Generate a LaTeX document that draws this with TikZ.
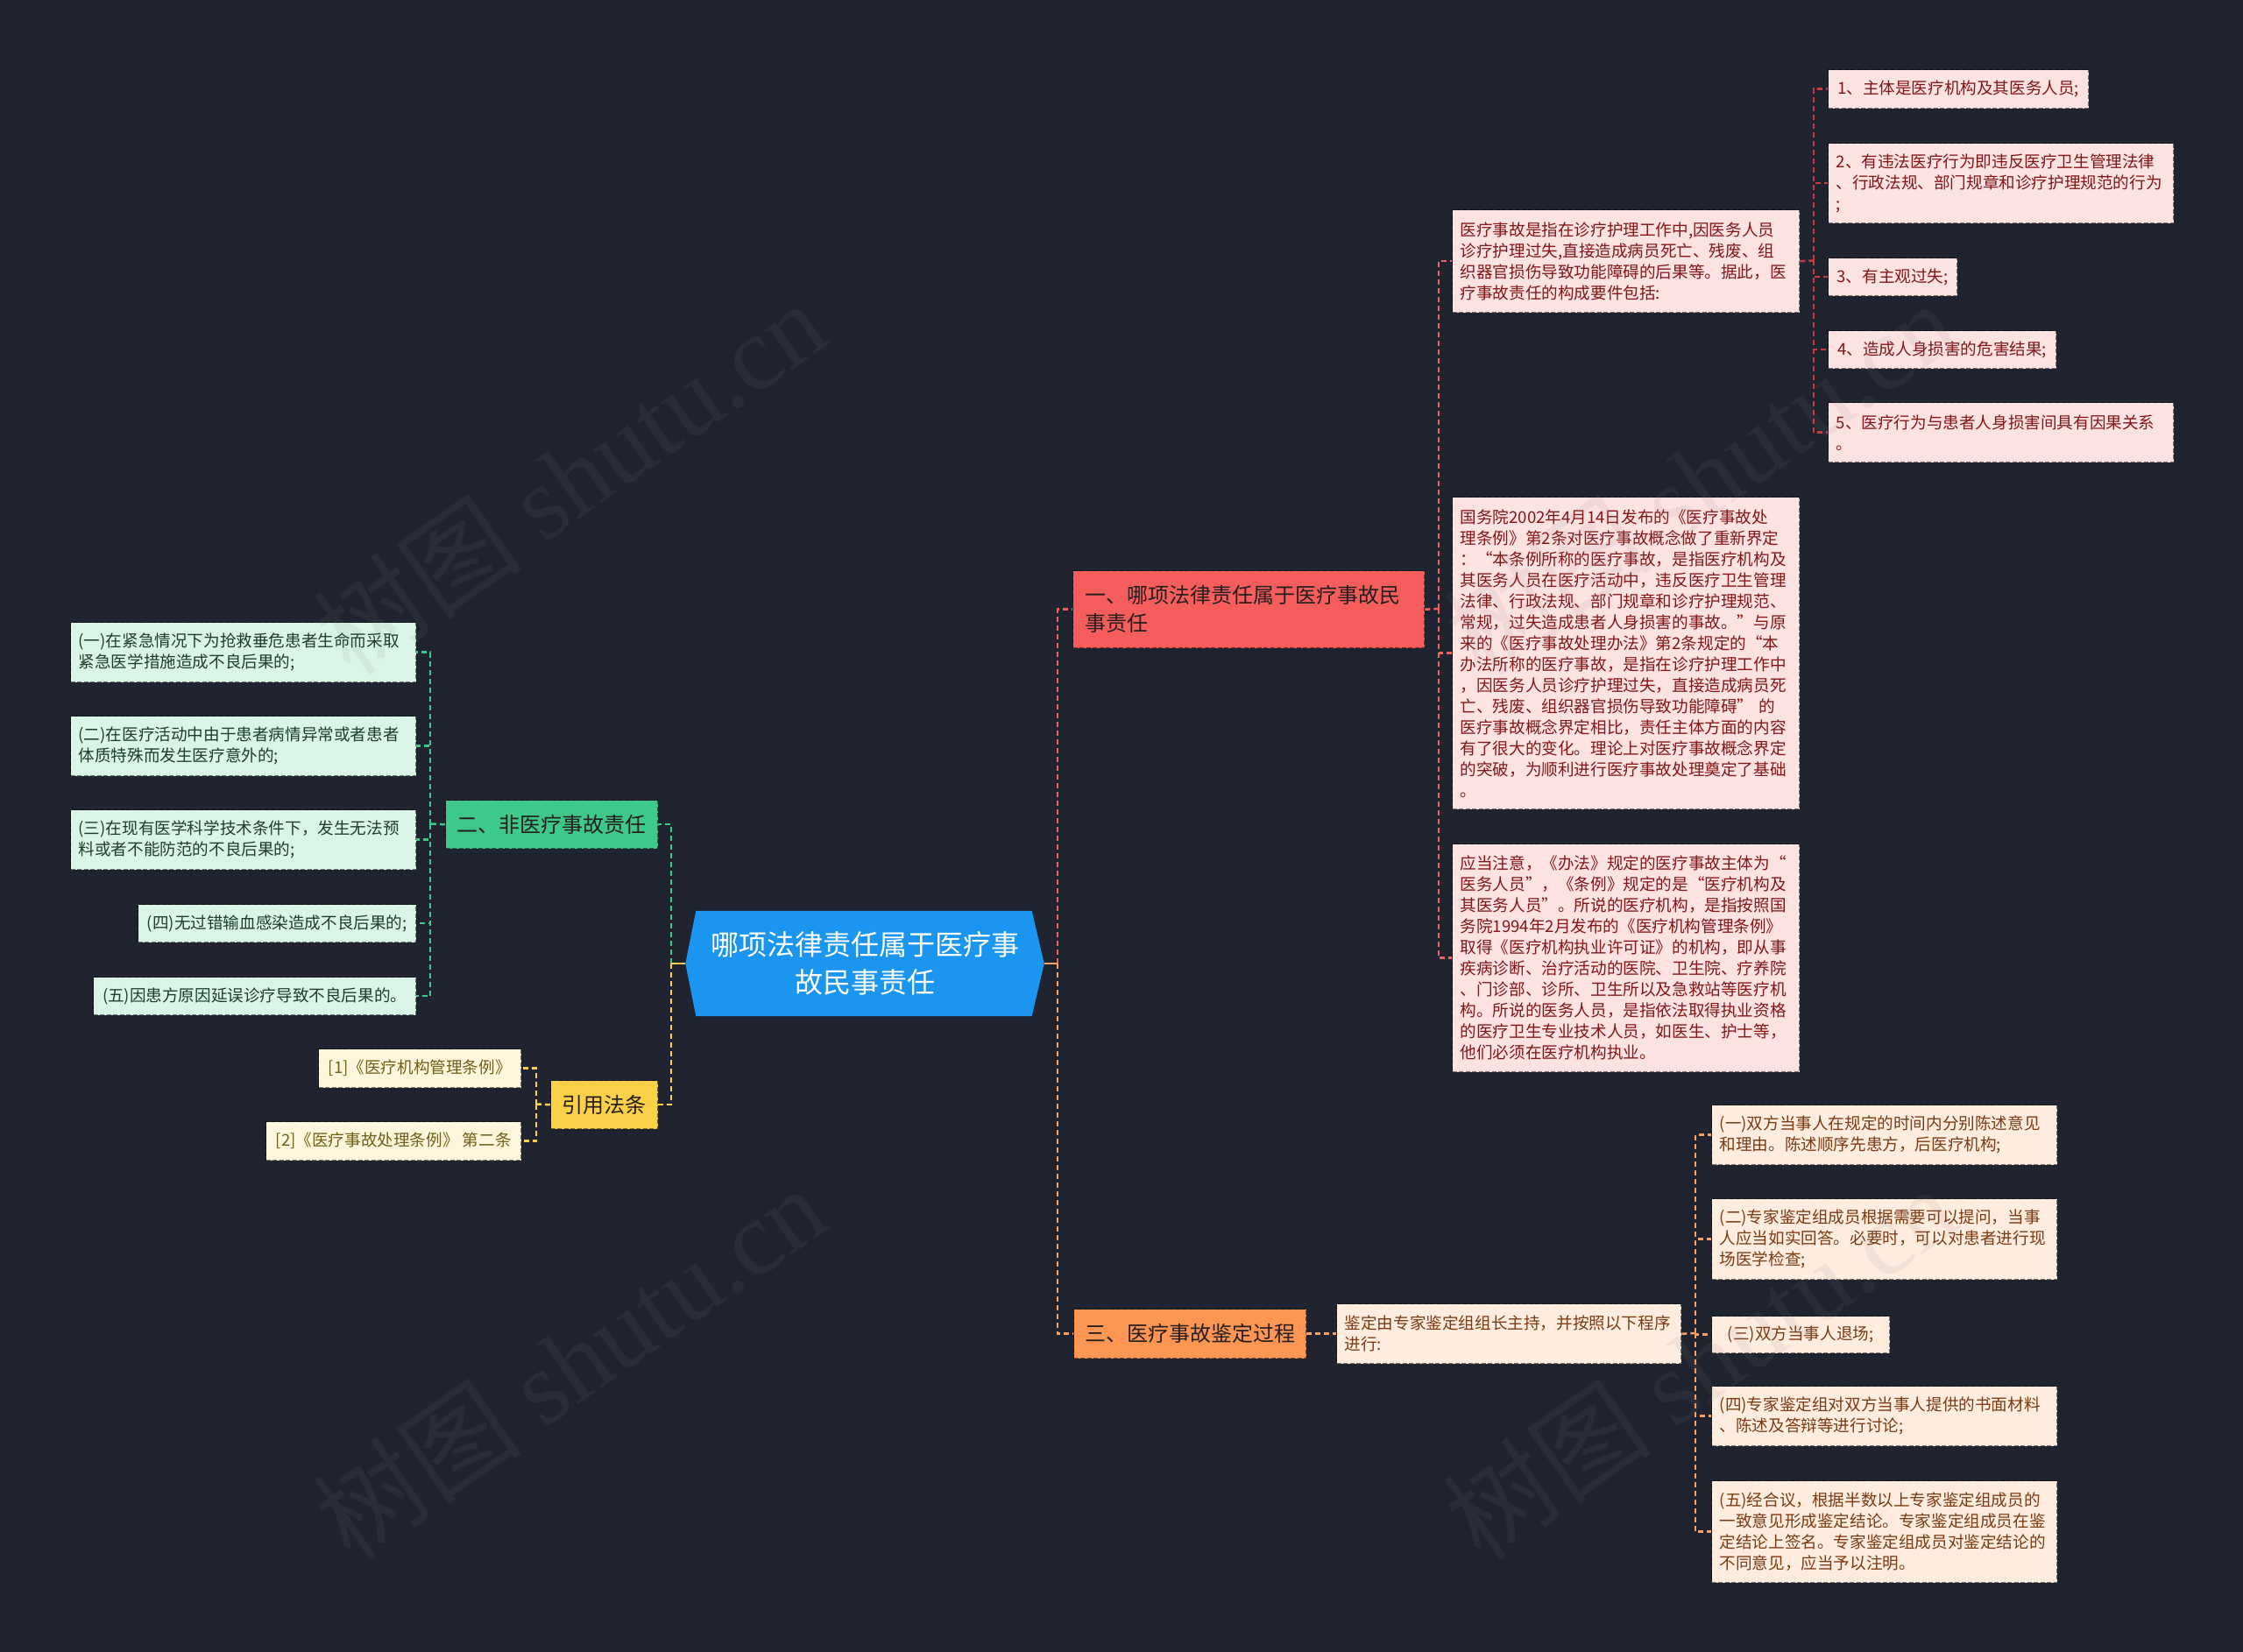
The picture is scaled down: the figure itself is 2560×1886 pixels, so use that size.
\documentclass[tikz,border=0pt]{standalone}
\usepackage{fontspec}
\setmainfont{Noto Sans CJK SC}
\newfontfamily\wmlatin{Liberation Serif}
\usetikzlibrary{backgrounds}
\definecolor{bgc}{RGB}{32,36,48}
\definecolor{rootc}{RGB}{27,150,240}
\definecolor{bonef}{RGB}{246,94,94}
\definecolor{btwof}{RGB}{62,200,138}
\definecolor{bthreef}{RGB}{250,208,72}
\definecolor{bfourf}{RGB}{253,150,82}
\definecolor{pinkf}{RGB}{253,226,226}
\definecolor{pinkt}{RGB}{130,22,22}
\definecolor{mintf}{RGB}{218,245,231}
\definecolor{mintt}{RGB}{28,62,45}
\definecolor{creamf}{RGB}{253,246,220}
\definecolor{creamt}{RGB}{112,96,24}
\definecolor{peachf}{RGB}{254,236,222}
\definecolor{peacht}{RGB}{122,58,18}
\definecolor{redl}{RGB}{238,100,100}
\definecolor{dredl}{RGB}{200,60,65}
\definecolor{greenl}{RGB}{62,200,138}
\definecolor{yell}{RGB}{250,208,72}
\definecolor{orl}{RGB}{250,160,100}
\definecolor{brtext}{RGB}{38,30,30}
\begin{document}
\begin{tikzpicture}[x=1pt,y=-1pt,
  cline/.style={line width=2.5pt, dash pattern=on 6pt off 4pt},
  sline/.style={line width=2.5pt},
  boxbase/.style={draw=black, draw opacity=0.5, line width=1.4pt, dash pattern=on 5pt off 2.5pt, anchor=north west, inner ysep=0pt},
  leafbox/.style={boxbase, inner xsep=9pt, font=\fontsize{18.6}{24}\selectfont},
  multi/.style={align=left, text width=#1},
  single/.style={align=center},
  branchbox/.style={boxbase, inner xsep=12pt, font=\fontsize{24}{32}\selectfont, text=brtext},
  pinkbox/.style={leafbox, fill=pinkf, text=pinkt},
  mintbox/.style={leafbox, fill=mintf, text=mintt},
  creambox/.style={leafbox, fill=creamf, text=creamt},
  peachbox/.style={leafbox, fill=peachf, text=peacht},
  wm/.style={rotate=35, text=gray, opacity=0.1, font=\fontsize{120}{120}\selectfont}
]
\useasboundingbox (0,0) rectangle (2560,1886);

% root
\node[font=\fontsize{32}{43}\selectfont, text=white, align=center, minimum width=409pt, minimum height=120pt, inner sep=0pt] (root) at (987,1100) {哪项法律责任属于医疗事\\故民事责任};

% branches
\node[branchbox, fill=bonef, minimum width=401pt, minimum height=88pt, align=left, text width=373pt, inner xsep=14pt] (b1) at (1224,651) {一、哪项法律责任属于医疗事故民\\事责任};
\node[branchbox, fill=btwof, minimum width=242pt, minimum height=55pt, single] (b2) at (508,913) {二、非医疗事故责任};
\node[branchbox, fill=bthreef, minimum width=122pt, minimum height=55pt, single] (b3) at (628,1233) {引用法条};
\node[branchbox, fill=bfourf, minimum width=265pt, minimum height=56pt, single] (b4) at (1225,1494) {三、医疗事故鉴定过程};

% branch one children
\node[pinkbox, minimum width=396pt, minimum height=117pt, multi=378pt] (A) at (1657,239) {医疗事故是指在诊疗护理工作中,因医务人员\\诊疗护理过失,直接造成病员死亡、残废、组\\织器官损伤导致功能障碍的后果等。据此，医\\疗事故责任的构成要件包括:};
\node[pinkbox, minimum width=396pt, minimum height=356pt, multi=378pt] (B) at (1657,567) {国务院2002年4月14日发布的《医疗事故处\\理条例》第2条对医疗事故概念做了重新界定\\：“本条例所称的医疗事故，是指医疗机构及\\其医务人员在医疗活动中，违反医疗卫生管理\\法律、行政法规、部门规章和诊疗护理规范、\\常规，过失造成患者人身损害的事故。”与原\\来的《医疗事故处理办法》第2条规定的“本\\办法所称的医疗事故，是指在诊疗护理工作中\\，因医务人员诊疗护理过失，直接造成病员死\\亡、残废、组织器官损伤导致功能障碍” 的\\医疗事故概念界定相比，责任主体方面的内容\\有了很大的变化。理论上对医疗事故概念界定\\的突破，为顺利进行医疗事故处理奠定了基础\\。};
\node[pinkbox, minimum width=396pt, minimum height=260pt, multi=378pt] (C) at (1657,963) {应当注意，《办法》规定的医疗事故主体为“\\医务人员”，《条例》规定的是“医疗机构及\\其医务人员”。所说的医疗机构，是指按照国\\务院1994年2月发布的《医疗机构管理条例》\\取得《医疗机构执业许可证》的机构，即从事\\疾病诊断、治疗活动的医院、卫生院、疗养院\\、门诊部、诊所、卫生所以及急救站等医疗机\\构。所说的医务人员，是指依法取得执业资格\\的医疗卫生专业技术人员，如医生、护士等，\\他们必须在医疗机构执业。};

% A children
\node[pinkbox, minimum width=297pt, minimum height=44pt, single] (p1) at (2086,79) {1、主体是医疗机构及其医务人员;};
\node[pinkbox, minimum width=394pt, minimum height=91pt, multi=376pt] (p2) at (2086,163) {2、有违法医疗行为即违反医疗卫生管理法律\\、行政法规、部门规章和诊疗护理规范的行为\\;};
\node[pinkbox, minimum width=147pt, minimum height=43pt, single] (p3) at (2086,294) {3、有主观过失;};
\node[pinkbox, minimum width=260pt, minimum height=43pt, single] (p4) at (2086,377) {4、造成人身损害的危害结果;};
\node[pinkbox, minimum width=394pt, minimum height=68pt, multi=376pt] (p5) at (2086,459) {5、医疗行为与患者人身损害间具有因果关系\\。};

% branch two children
\node[mintbox, minimum width=394pt, minimum height=68pt, multi=376pt] (m1) at (80,710) {(一)在紧急情况下为抢救垂危患者生命而采取\\紧急医学措施造成不良后果的;};
\node[mintbox, minimum width=394pt, minimum height=68pt, multi=376pt] (m2) at (80,817) {(二)在医疗活动中由于患者病情异常或者患者\\体质特殊而发生医疗意外的;};
\node[mintbox, minimum width=394pt, minimum height=68pt, multi=376pt] (m3) at (80,924) {(三)在现有医学科学技术条件下，发生无法预\\料或者不能防范的不良后果的;};
\node[mintbox, minimum width=317pt, minimum height=43pt, single] (m4) at (157,1032) {(四)无过错输血感染造成不良后果的;};
\node[mintbox, minimum width=368pt, minimum height=43pt, single] (m5) at (106,1115) {(五)因患方原因延误诊疗导致不良后果的。};

% citation children
\node[creambox, minimum width=231pt, minimum height=44pt, single] (c1) at (363,1197) {[1]《医疗机构管理条例》};
\node[creambox, minimum width=291pt, minimum height=44pt, single] (c2) at (303,1280) {[2]《医疗事故处理条例》 第二条};

% branch three children
\node[peachbox, minimum width=393pt, minimum height=68pt, multi=375pt] (q0) at (1525,1488) {鉴定由专家鉴定组组长主持，并按照以下程序\\进行:};
\node[peachbox, minimum width=394pt, minimum height=68pt, multi=376pt] (q1) at (1953,1261) {(一)双方当事人在规定的时间内分别陈述意见\\和理由。陈述顺序先患方，后医疗机构;};
\node[peachbox, minimum width=394pt, minimum height=92pt, multi=376pt] (q2) at (1953,1368) {(二)专家鉴定组成员根据需要可以提问，当事\\人应当如实回答。必要时，可以对患者进行现\\场医学检查;};
\node[peachbox, minimum width=203pt, minimum height=42pt, single] (q3) at (1953,1502) {(三)双方当事人退场;};
\node[peachbox, minimum width=394pt, minimum height=68pt, multi=376pt] (q4) at (1953,1582) {(四)专家鉴定组对双方当事人提供的书面材料\\、陈述及答辩等进行讨论;};
\node[peachbox, minimum width=394pt, minimum height=116pt, multi=376pt] (q5) at (1953,1690) {(五)经合议，根据半数以上专家鉴定组成员的\\一致意见形成鉴定结论。专家鉴定组成员在鉴\\定结论上签名。专家鉴定组成员对鉴定结论的\\不同意见，应当予以注明。};

% spine coordinates
\coordinate (rs) at (1207,1100);
\coordinate (ls) at (766,1100);
\coordinate (s1) at (1642,695);
\coordinate (s2) at (2070,297.5);
\coordinate (s3) at (491,940.5);
\coordinate (s4) at (612,1260.5);
\coordinate (s5) at (1935,1522);

\begin{scope}[on background layer]
  \fill[bgc] (0,0) rectangle (2560,1886);
  \fill[rootc] ([xshift=12pt]root.north west) -- ([xshift=-14pt]root.north east) -- (root.east) -- ([xshift=-14pt]root.south east) -- ([xshift=12pt]root.south west) -- (root.west) -- cycle;
  % root to branches
  \draw[cline, redl] (rs) |- (b1.west);
  \draw[cline, orl] (rs) |- (b4.west);
  \draw[sline, orl] (root.east) -- (rs);
  \draw[cline, greenl] (ls) |- (b2.east);
  \draw[cline, yell] (ls) |- (b3.east);
  \draw[sline, yell] (root.west) -- (ls);
  % branch one
  \draw[cline, redl] (b1.east) -- (s1);
  \foreach \n in {A,B,C} \draw[cline, redl] (s1) |- (\n.west);
  \draw[cline, dredl] (A.east) -- (s2);
  \foreach \n in {p1,p2,p3,p4,p5} \draw[cline, dredl] (s2) |- (\n.west);
  % branch two
  \draw[cline, greenl] (b2.west) -- (s3);
  \foreach \n in {m1,m2,m3,m4,m5} \draw[cline, greenl] (s3) |- (\n.east);
  % citations
  \draw[cline, yell] (b3.west) -- (s4);
  \foreach \n in {c1,c2} \draw[cline, yell] (s4) |- (\n.east);
  % branch three
  \draw[cline, orl] (b4.east) -- (q0.west);
  \draw[cline, orl] (q0.east) -- (s5);
  \foreach \n in {q1,q2,q3,q4,q5} \draw[cline, orl] (s5) |- (\n.west);
\end{scope}

% watermarks
\node[wm] (w1) at (650,545) {树图 {\wmlatin shutu.cn}};
\node[wm] (w2) at (650,1555) {树图 {\wmlatin shutu.cn}};
\node[wm] (w3) at (1940,545) {树图 {\wmlatin shutu.cn}};
\node[wm] (w4) at (1940,1555) {树图 {\wmlatin shutu.cn}};
\end{tikzpicture}
\end{document}
